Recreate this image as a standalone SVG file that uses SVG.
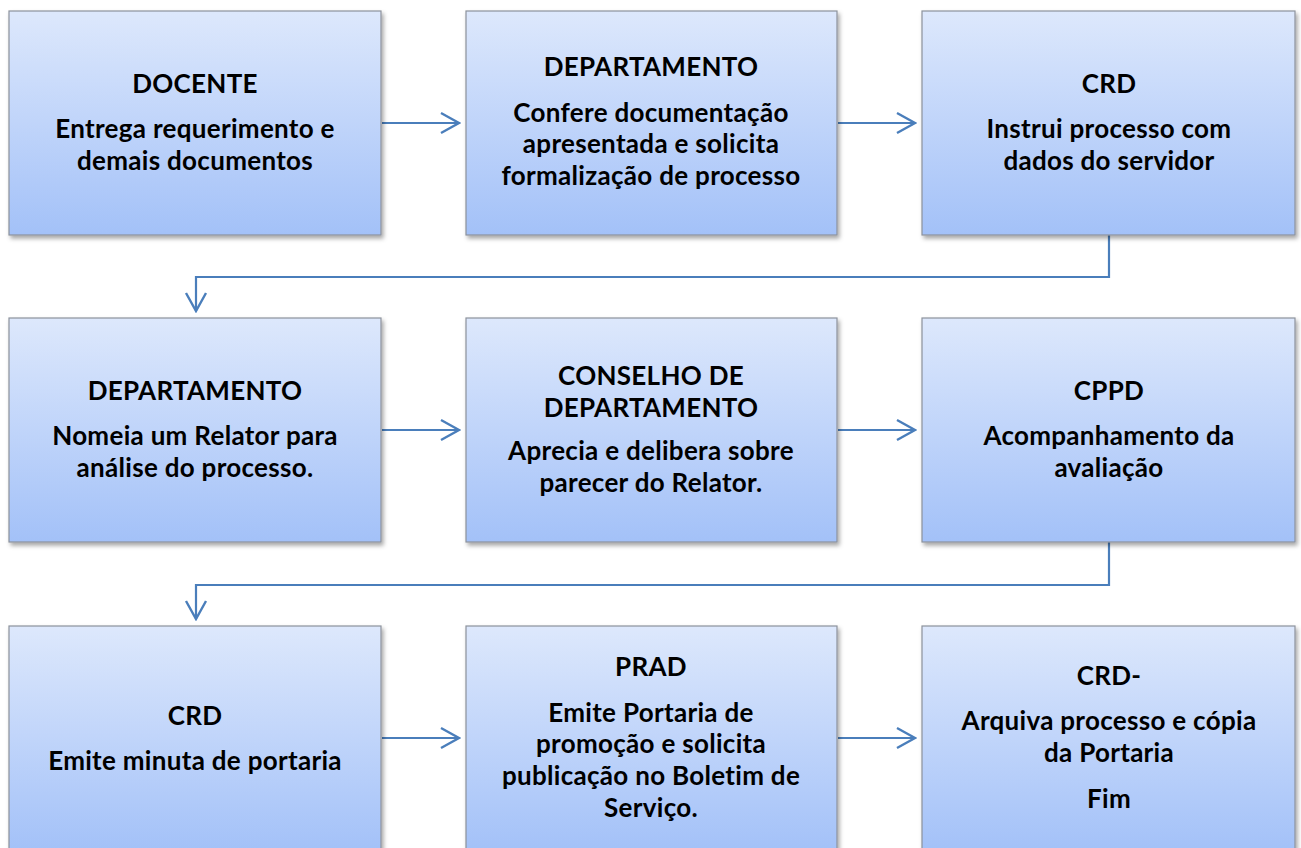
<svg xmlns="http://www.w3.org/2000/svg" width="1301" height="848" viewBox="0 0 1301 848">
<style>
.box{fill:url(#g);stroke:#8c929c;stroke-width:1.2;filter:url(#sh)}
text{font-family:Lato,"Liberation Sans",sans-serif;font-weight:700;font-size:26px;letter-spacing:0.3px;fill:#000;text-anchor:middle}
.c{fill:none;stroke:#4a7ebb;stroke-width:2.2;marker-end:url(#ah)}
</style>
<defs>
<linearGradient id="g" x1="0" y1="0" x2="0" y2="1">
<stop offset="0" stop-color="#dde8fc"/>
<stop offset="1" stop-color="#a3c1f8"/>
</linearGradient>
<filter id="sh" x="-5%" y="-5%" width="112%" height="115%">
<feDropShadow dx="2" dy="3" stdDeviation="2" flood-color="#000" flood-opacity="0.35"/>
</filter>
<marker id="ah" markerUnits="userSpaceOnUse" viewBox="-20 -12 22 24" markerWidth="22" markerHeight="24" refX="0" refY="0" orient="auto">
<path d="M-18,-10 L0,0 L-18,10" fill="none" stroke="#4a7ebb" stroke-width="2.4"/>
</marker>
</defs>
<g id="connectors">
<path class="c" d="M382,123 H459"/>
<path class="c" d="M838,123 H915"/>
<path class="c" d="M1109,235 V277 H196 V311"/>
<path class="c" d="M382,430 H459"/>
<path class="c" d="M838,430 H915"/>
<path class="c" d="M1109,542 V585 H196 V619"/>
<path class="c" d="M382,738 H459"/>
<path class="c" d="M838,738 H915"/>
</g>
<g id="n1"><rect class="box" x="9" y="11" width="372" height="224"/>
<text x="195" y="93">DOCENTE</text><text x="195" y="138">Entrega requerimento e</text><text x="195" y="170">demais documentos</text></g>
<g id="n2"><rect class="box" x="466" y="11" width="371" height="224"/>
<text x="651" y="76">DEPARTAMENTO</text><text x="651" y="121.5">Confere documentação</text><text x="651" y="153">apresentada e solicita</text><text x="651" y="185">formalização de processo</text></g>
<g id="n3"><rect class="box" x="922" y="11" width="373" height="224"/>
<text x="1109" y="93">CRD</text><text x="1109" y="138">Instrui processo com</text><text x="1109" y="170">dados do servidor</text></g>
<g id="n4"><rect class="box" x="9" y="318" width="372" height="224"/>
<text x="195" y="400">DEPARTAMENTO</text><text x="195" y="445">Nomeia um Relator para</text><text x="195" y="477">análise do processo.</text></g>
<g id="n5"><rect class="box" x="466" y="318" width="371" height="224"/>
<text x="651" y="385">CONSELHO DE</text><text x="651" y="416.5">DEPARTAMENTO</text><text x="651" y="460">Aprecia e delibera sobre</text><text x="651" y="491.5">parecer do Relator.</text></g>
<g id="n6"><rect class="box" x="922" y="318" width="373" height="224"/>
<text x="1109" y="400">CPPD</text><text x="1109" y="445">Acompanhamento da</text><text x="1109" y="477">avaliação</text></g>
<g id="n7"><rect class="box" x="9" y="626" width="372" height="226"/>
<text x="195" y="725">CRD</text><text x="195" y="770">Emite minuta de portaria</text></g>
<g id="n8"><rect class="box" x="466" y="626" width="371" height="226"/>
<text x="651" y="676">PRAD</text><text x="651" y="721.5">Emite Portaria de</text><text x="651" y="753">promoção e solicita</text><text x="651" y="785">publicação no Boletim de</text><text x="651" y="816.5">Serviço.</text></g>
<g id="n9"><rect class="box" x="922" y="626" width="373" height="226"/>
<text x="1109" y="685">CRD-</text><text x="1109" y="730">Arquiva processo e cópia</text><text x="1109" y="761.5">da Portaria</text><text x="1109" y="808">Fim</text></g>
</svg>
